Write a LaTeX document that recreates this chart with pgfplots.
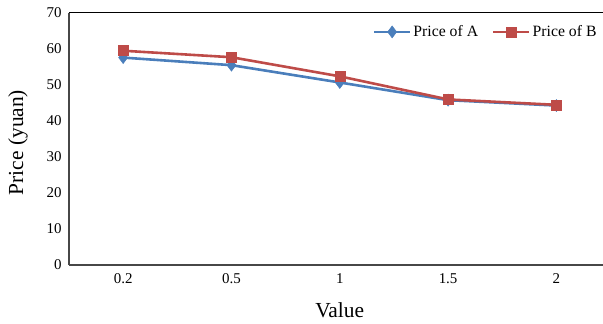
\documentclass[border=0pt]{standalone}
\usepackage{fontspec}
\setmainfont{Liberation Serif}
\usepackage{pgfplots}
\pgfplotsset{compat=1.18}
\definecolor{seriesA}{HTML}{4A7EBB}
\definecolor{seriesB}{HTML}{BE4B48}
\begin{document}
\begin{tikzpicture}
\begin{axis}[
  scale only axis, width=534bp, height=252.5bp,
  xmin=-0.5, xmax=4.43, ymin=0, ymax=70,
  xtick={0,...,4}, xticklabels={0.2,0.5,1,1.5,2},
  ytick={0,10,...,70},
  major tick length=0pt,
  axis lines=left,
  axis line style={-, line width=1.2bp, draw=black!72},
  clip=false,
  /pgf/number format/assume math mode=true,
  yticklabel style={font=\fontsize{15}{17}\selectfont, xshift=-4bp},
  xticklabel style={font=\fontsize{15}{17}\selectfont, yshift=-5bp},
  xlabel={Value}, ylabel={Price (yuan)},
  label style={font=\fontsize{21.5}{24}\selectfont},
  xlabel style={at={(axis description cs:0.507,-0.178)}, anchor=center},
  ylabel style={at={(axis description cs:-0.0955,0.485)}, anchor=center},
  legend columns=2,
  legend style={at={(rel axis cs:0.992,0.923)}, anchor=east, draw=none, fill=none,
    font=\fontsize{15.8}{17}\selectfont, inner sep=0pt,
    /tikz/every even column/.append style={column sep=12bp}},
  legend cell align=left,
  legend image code/.code={\draw[mark repeat=2,mark phase=2] plot coordinates {(0bp,0bp)(18bp,0bp)(36bp,0bp)};},
]
\addplot[seriesA, line width=2.6bp, mark=diamond*, mark size=6bp, mark options={solid, line width=0.5bp}]
  coordinates {(0,57.5) (1,55.4) (2,50.6) (3,45.7) (4,44.2)};
\addlegendentry{Price of A}
\addplot[seriesB, line width=2.6bp, mark=square*, mark size=5bp, mark options={solid, line width=0.5bp}]
  coordinates {(0,59.4) (1,57.6) (2,52.3) (3,45.9) (4,44.4)};
\addlegendentry{Price of B}
\draw[black, line width=0.8bp] (rel axis cs:0,1) -- (rel axis cs:1,1);
\coordinate (sw) at (rel axis cs:0,0);
\coordinate (ne) at (rel axis cs:1,1);
\end{axis}
\pgfresetboundingbox
\path ([shift={(-69bp,-59bp)}]sw) rectangle ([shift={(0bp,12.5bp)}]ne);
\end{tikzpicture}
\end{document}
